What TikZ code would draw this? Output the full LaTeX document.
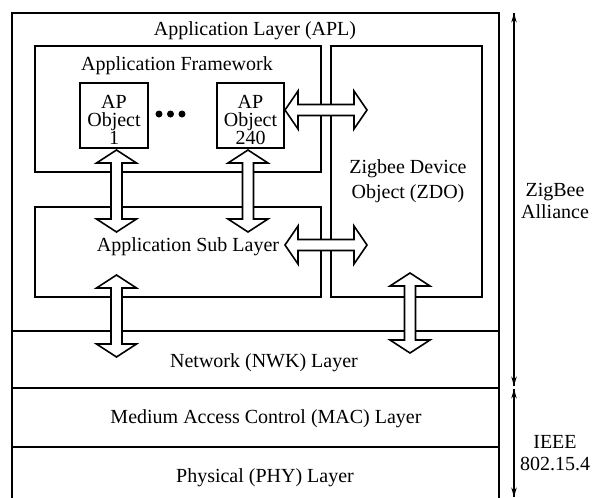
\documentclass[tikz,border=0pt]{standalone}
\usepackage{fontspec}
\setmainfont{Liberation Serif}
\usetikzlibrary{arrows.meta}
\tikzset{
  box/.style={draw, line width=1.5pt},
  blockarrow/.style={draw, fill=white, line width=1.2pt, line join=miter},
  lbl/.style={inner sep=0pt, anchor=base, font=\fontsize{15}{18}\selectfont},
  stack/.style={inner sep=0pt, align=center, font=\fontsize{15}{13.5}\selectfont},
  side/.style={line width=1.2pt, -{Stealth[length=7pt,width=4pt]}},
}
\newcommand\vdarr[3]{\path[blockarrow] (#1,#2) -- (#1+20,#2+13) -- (#1+5.5,#2+13) -- (#1+5.5,#3-13) -- (#1+20,#3-13) -- (#1,#3) -- (#1-20,#3-13) -- (#1-5.5,#3-13) -- (#1-5.5,#2+13) -- (#1-20,#2+13) -- cycle;}
\newcommand\hdarr[3]{\path[blockarrow] (#2,#1) -- (#2+13,#1-19) -- (#2+13,#1-5.5) -- (#3-13,#1-5.5) -- (#3-13,#1-19) -- (#3,#1) -- (#3-13,#1+19) -- (#3-13,#1+5.5) -- (#2+13,#1+5.5) -- (#2+13,#1+19) -- cycle;}
\begin{document}
\begin{tikzpicture}[x=0.75pt, y=-0.75pt]
\useasboundingbox (0,0) rectangle (593,497);
% outer APL box and lower layers
\draw[box] (12,497.5) -- (12,13) -- (499,13) -- (499,497.5);
\draw[box] (12,331) -- (499,331);
\draw[box] (12,388) -- (499,388);
\draw[box] (12,447) -- (499,447);
% application framework / sub layer
\draw[box] (35,46) rectangle (321,172);
\draw[box] (35,207) rectangle (321,297);
\draw[box] (331,46) rectangle (482,297);
% AP objects
\draw[box] (80,83) rectangle (148,148);
\draw[box] (217,83) rectangle (284,148);
\fill (159,114) circle (3.5) (170.5,114) circle (3.5) (182,114) circle (3.5);
% labels
\node[lbl] (apl) at (255,35) {Application Layer (APL)};
\node[lbl] (af) at (177,70) {Application Framework};
\node[stack] (ap1) at (114,120) {AP\\Object\\1};
\node[stack] (ap2) at (250.5,120) {AP\\Object\\240};
\node[lbl] (asl) at (188,251) {Application Sub Layer};
\node[stack, font=\fontsize{15}{18.5}\selectfont] (zdo) at (408,181) {Zigbee Device\\Object (ZDO)};
\node[lbl] (nwk) at (264,367) {Network (NWK) Layer};
\node[lbl] (mac) at (266,423) {Medium Access Control (MAC) Layer};
\node[lbl] (phy) at (265,482) {Physical (PHY) Layer};
\node[stack, font=\fontsize{15}{16}\selectfont] (zb) at (555,201) {ZigBee\\Alliance};
\node[stack, font=\fontsize{15}{16.5}\selectfont] (ieee) at (555,453) {IEEE\\802.15.4};
% block arrows
\vdarr{116.5}{150}{232}
\vdarr{248}{150}{232}
\vdarr{116.5}{275}{357}
\vdarr{410}{273}{353}
\hdarr{110}{285}{367}
\hdarr{245}{285}{367}
% side brackets
\coordinate (zt) at (514,13);
\coordinate (zbot) at (514,386);
\coordinate (it) at (514,389);
\coordinate (ib) at (514,497);
\draw[side] (zbot) -- (zt);
\draw[side] (zt) -- (zbot);
\draw[side] (ib) -- (it);
\draw[side] (it) -- (ib);
\end{tikzpicture}
\end{document}
